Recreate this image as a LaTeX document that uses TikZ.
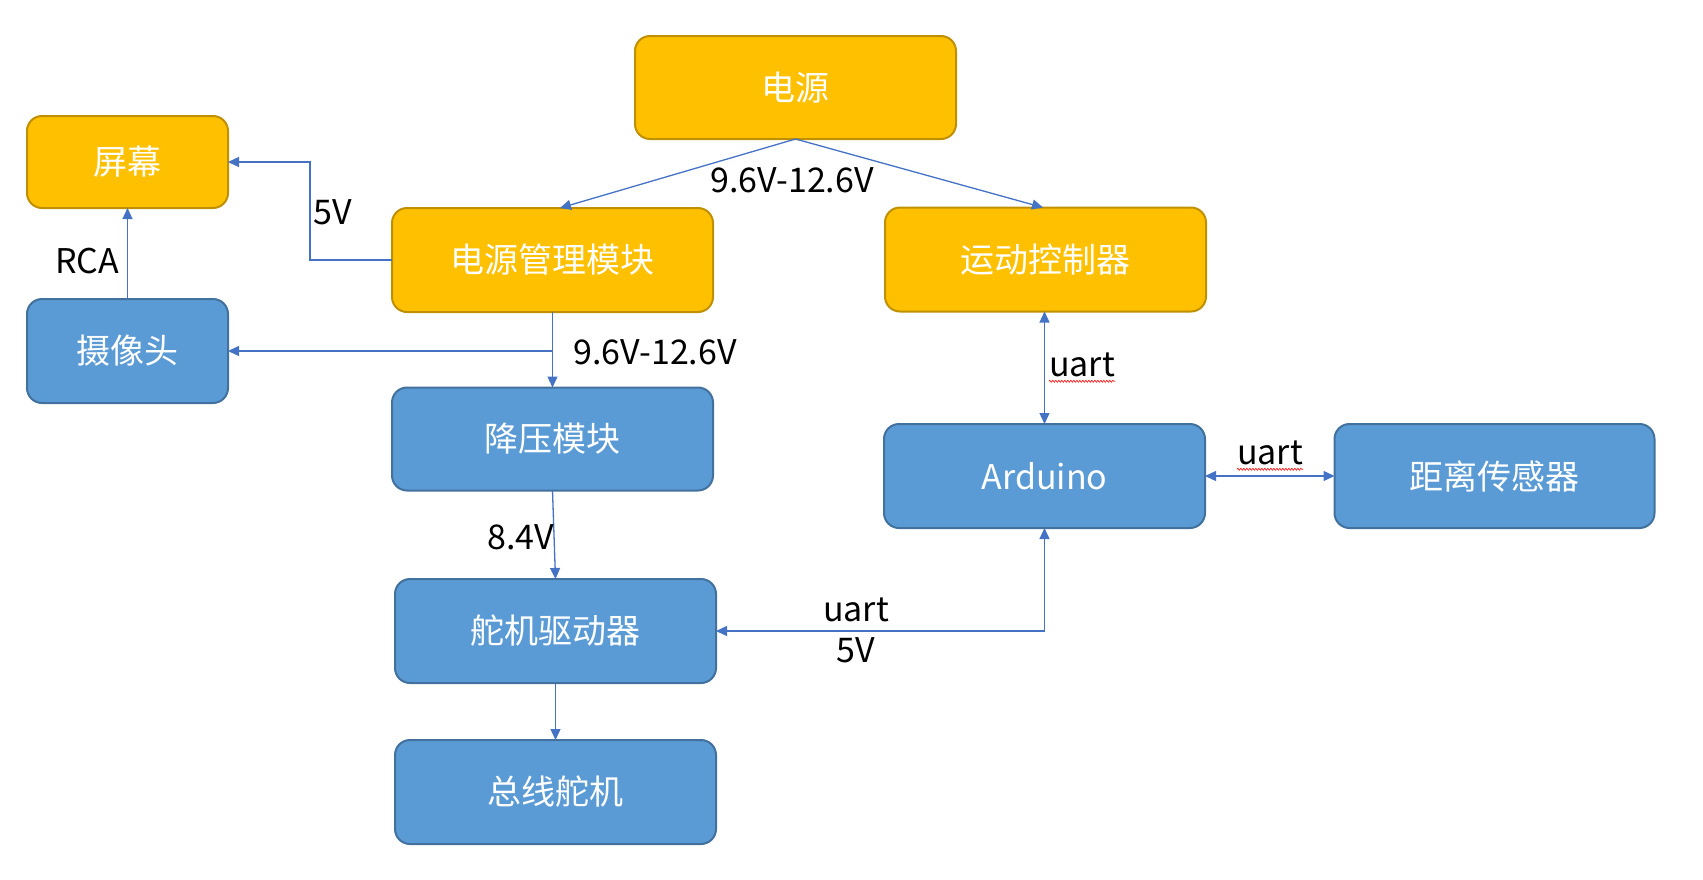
\documentclass[tikz,border=0pt]{standalone}
\usepackage{fontspec}
\setmainfont{Noto Sans CJK SC}
\usetikzlibrary{arrows.meta,calc,decorations.pathmorphing}
\definecolor{orfill}{HTML}{FFC000}
\definecolor{ordraw}{HTML}{BF9000}
\definecolor{blfill}{HTML}{5B9BD5}
\definecolor{bldraw}{HTML}{41719C}
\definecolor{ln}{HTML}{4472C4}
\tikzset{
  box/.style={rounded corners=15pt, line width=2pt, inner sep=0pt, outer sep=0pt,
    text=white, font=\fontsize{34}{40}\selectfont, minimum width=321pt, minimum height=104pt},
  obox/.style={box, fill=orfill, draw=ordraw},
  bbox/.style={box, fill=blfill, draw=bldraw},
  conn/.style={draw=ln, line width=1.3pt, -{Triangle[length=11pt,width=10pt]}},
  bconn/.style={draw=ln, line width=1.3pt, {Triangle[length=11pt,width=10pt]}-{Triangle[length=11pt,width=10pt]}},
  lbl/.style={font=\fontsize{34}{40}\selectfont, text=black, inner sep=0pt},
  squig/.style={draw=red, line width=0.6pt, decorate, decoration={snake, amplitude=1pt, segment length=3pt}}
}
\begin{document}
\begin{tikzpicture}[x=1pt,y=-1pt]
\useasboundingbox (0,0) rectangle (1703,879);
% nodes
\node[obox, minimum width=201pt, minimum height=92pt] (scr) at (127.5,162) {屏幕};
\node[bbox, minimum width=201pt] (cam) at (127.5,351) {摄像头};
\node[obox, minimum height=103pt] (pwr) at (795.5,87.5) {电源};
\node[obox] (pm) at (552.5,260) {电源管理模块};
\node[obox] (mc) at (1045.5,259.5) {运动控制器};
\node[bbox, minimum height=103pt] (jy) at (552.5,439) {降压模块};
\node[bbox] (dj) at (555.5,631) {舵机驱动器};
\node[bbox] (zx) at (555.5,792) {总线舵机};
\node[bbox] (ard) at (1044.5,476) {Arduino};
\node[bbox, minimum width=320pt] (dist) at (1494.5,476) {距离传感器};
% connectors
\draw[conn] (pwr.south) -- ([xshift=7.5pt]pm.north);
\draw[conn] (pwr.south) -- ([xshift=-2.5pt]mc.north);
\coordinate (mid5) at ($(scr.east)!0.5!(pm.west)$);
\draw[conn] (pm.west) -| (mid5) |- (scr.east);
\draw[conn] (cam.north) -- (scr.south);
\draw[conn] (pm.south) -- (jy.north);
\draw[conn] (pm.south |- cam.east) -- (cam.east);
\draw[conn] (jy.south) -- (dj.north);
\draw[conn] (dj.south) -- (zx.north);
\draw[bconn] (dj.east) -| (ard.south);
\draw[bconn] (mc.south -| ard.north) -- (ard.north);
\draw[bconn] (ard.east) -- (dist.west);
% labels
\node[lbl] (l1) at (792,180) {9.6V-12.6V};
\node[lbl] (l2) at (333,212) {5V};
\node[lbl] (l3) at (87,261) {RCA};
\node[lbl] (l4) at (655,352) {9.6V-12.6V};
\node[lbl] (l5) at (521,537) {8.4V};
\node[lbl] (l6) at (1082,365) {uart};
\node[lbl] (l7) at (1270,453) {uart};
\node[lbl] (l8) at (856,610) {uart};
\node[lbl] (l9) at (856,650) {5V};
\draw[squig] ([yshift=-4pt]l6.south west) -- ([yshift=-4pt]l6.south east);
\draw[squig] ([yshift=-4pt]l7.south west) -- ([yshift=-4pt]l7.south east);
\end{tikzpicture}
\end{document}
